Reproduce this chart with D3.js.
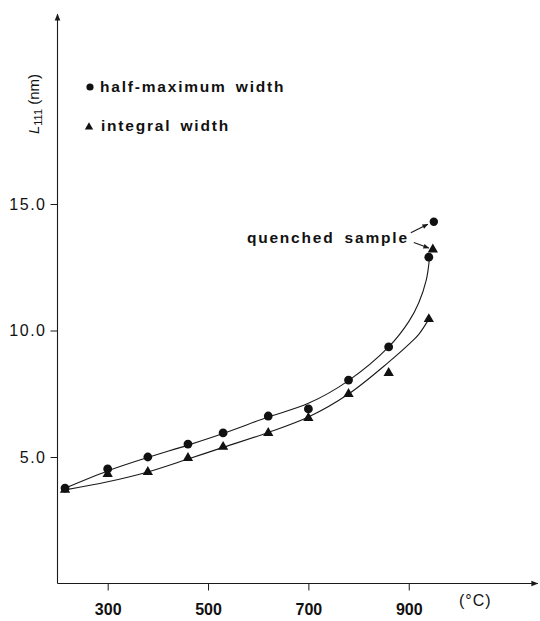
<!DOCTYPE html>
<html>
<head>
<meta charset="utf-8">
<script src="https://cdn.jsdelivr.net/npm/d3@7/dist/d3.min.js"></script>
<style>
  html, body { margin: 0; padding: 0; background: #fff; }
  svg { display: block; }
  text { font-family: "Liberation Sans", Arial, Helvetica, sans-serif; fill: #111; }
</style>
</head>
<body>
<div id="chart"></div>
<script>
// ---- data ----
const temps = [215, 300, 380, 460, 530, 620, 700, 780, 860, 940];
const halfMaxWidth = [3.77, 4.53, 5.0, 5.51, 5.95, 6.62, 6.90, 8.04, 9.35, 12.9];
const integralWidth = [3.70, 4.33, 4.41, 4.96, 5.40, 5.95, 6.54, 7.49, 8.32, 10.45];
const quenchedT = [950, 948];          // quenched sample temperatures (circle, triangle)
const quenchedValues = [14.3, 13.2];   // half-maximum, integral
// fitted curves drawn through the data
const halfMaxFitT = [215, 300, 380, 460, 530, 620, 700, 780, 860, 900, 920, 935, 941];
const halfMaxFitV = [3.77, 4.45, 4.98, 5.47, 5.93, 6.58, 7.12, 8.02, 9.35, 10.35, 11.1, 12.0, 12.8];
const integralFitT = [215, 300, 380, 460, 530, 620, 700, 780, 860, 900, 920, 940];
const integralFitV = [3.70, 4.02, 4.41, 4.92, 5.38, 5.97, 6.58, 7.49, 8.75, 9.45, 9.85, 10.45];
const xTicks = [300, 500, 700, 900];
const yTicks = [5, 10, 15];
const legendLabels = ["half-maximum width", "integral width"];

const W = 540, H = 621;
const svg = d3.select("#chart").append("svg").attr("width", W).attr("height", H);

const x = d3.scaleLinear().domain([200, 1157]).range([57.5, 537.7]);
const y = d3.scaleLinear().domain([0, 22.5]).range([583.5, 14.25]);

const ink = "#1a1a1a";

// arrow markers
const defs = svg.append("defs");
defs.append("marker").attr("id", "axArrow").attr("viewBox", "0 0 10 10")
  .attr("refX", 9).attr("refY", 5).attr("markerWidth", 9).attr("markerHeight", 7)
  .attr("markerUnits", "userSpaceOnUse").attr("orient", "auto")
  .append("path").attr("d", "M0,1 L10,5 L0,9 Z").attr("fill", ink);
defs.append("marker").attr("id", "smArrow").attr("viewBox", "0 0 10 10")
  .attr("refX", 9).attr("refY", 5).attr("markerWidth", 7).attr("markerHeight", 6)
  .attr("markerUnits", "userSpaceOnUse").attr("orient", "auto")
  .append("path").attr("d", "M0,1 L10,5 L0,9 Z").attr("fill", ink);

// axis lines with arrows
svg.append("line").attr("x1", x(200)).attr("y1", y(0)).attr("x2", x(200)).attr("y2", y(22.5))
  .attr("stroke", ink).attr("stroke-width", 1.1).attr("marker-end", "url(#axArrow)");
svg.append("line").attr("x1", x(200)).attr("y1", y(0)).attr("x2", x(1157)).attr("y2", y(0))
  .attr("stroke", ink).attr("stroke-width", 1.1).attr("marker-end", "url(#axArrow)");

// x axis
const xAxis = svg.append("g").attr("transform", `translate(0,${y(0)})`)
  .call(d3.axisBottom(x).tickValues(xTicks).tickSize(7).tickPadding(13).tickFormat(d3.format("d")));
xAxis.select(".domain").remove();
xAxis.selectAll("line").attr("stroke", ink);
xAxis.selectAll("text").attr("font-size", 16).attr("font-weight", "bold")
  .attr("font-family", "Liberation Sans, Arial, sans-serif").attr("fill", "#111");

// y axis
const yAxis = svg.append("g").attr("transform", `translate(${x(200)},0)`)
  .call(d3.axisLeft(y).tickValues(yTicks).tickSize(7).tickPadding(4).tickFormat(d3.format(".1f")));
yAxis.select(".domain").remove();
yAxis.selectAll("line").attr("stroke", ink);
yAxis.selectAll("text").attr("font-size", 16).attr("letter-spacing", "1.5px")
  .attr("font-family", "Liberation Sans, Arial, sans-serif").attr("fill", "#111");

// x unit label
svg.append("text").attr("x", x(1000)).attr("y", 606).attr("font-size", 16)
  .attr("letter-spacing", "1px").text("(°C)");

// y axis label
const yl = svg.append("text").attr("transform", "translate(39,104) rotate(-90)")
  .attr("text-anchor", "middle").attr("font-size", 15);
yl.append("tspan").attr("font-style", "italic").text("L");
yl.append("tspan").attr("font-size", 11).attr("dy", 3).text("111");
yl.append("tspan").attr("dy", -3).text(" (nm)");

// fitted curves
const line = d3.line().x(d => x(d[0])).y(d => y(d[1])).curve(d3.curveCatmullRom.alpha(0.5));
svg.append("path").datum(halfMaxFitT.map((t, i) => [t, halfMaxFitV[i]]))
  .attr("d", line).attr("fill", "none").attr("stroke", ink).attr("stroke-width", 1.1);
svg.append("path").datum(integralFitT.map((t, i) => [t, integralFitV[i]]))
  .attr("d", line).attr("fill", "none").attr("stroke", ink).attr("stroke-width", 1.1);

// markers
const tri = d3.symbol().type(d3.symbolTriangle).size(46);
svg.append("g").selectAll("path").data(temps.map((t, i) => [t, integralWidth[i]]))
  .join("path").attr("d", tri).attr("transform", d => `translate(${x(d[0])},${y(d[1])})`).attr("fill", "#111");
svg.append("g").selectAll("circle").data(temps.map((t, i) => [t, halfMaxWidth[i]]))
  .join("circle").attr("cx", d => x(d[0])).attr("cy", d => y(d[1])).attr("r", 4.4).attr("fill", "#111");

// quenched sample points
const qc = [x(quenchedT[0]), y(quenchedValues[0])];
const qt = [x(quenchedT[1]), y(quenchedValues[1])];
svg.append("circle").attr("cx", qc[0]).attr("cy", qc[1]).attr("r", 4.2).attr("fill", "#111");
svg.append("path").attr("d", tri).attr("transform", `translate(${qt[0]},${qt[1]})`).attr("fill", "#111");

// quenched annotation
svg.append("text").attr("x", qc[0] - 25).attr("y", qc[1] + 21).attr("text-anchor", "end")
  .attr("font-size", 15.5).attr("font-weight", "bold").attr("letter-spacing", "1.8px")
  .attr("word-spacing", "4px").text("quenched sample");
svg.append("line").attr("x1", qc[0] - 23).attr("y1", qc[1] + 11).attr("x2", qc[0] - 6).attr("y2", qc[1] + 2.5)
  .attr("stroke", ink).attr("stroke-width", 1.1).attr("marker-end", "url(#smArrow)");
svg.append("line").attr("x1", qt[0] - 19).attr("y1", qt[1] - 7).attr("x2", qt[0] - 4).attr("y2", qt[1] - 1.5)
  .attr("stroke", ink).attr("stroke-width", 1.1).attr("marker-end", "url(#smArrow)");

// legend
const lg = svg.append("g");
lg.append("circle").attr("cx", 90).attr("cy", 87).attr("r", 3.6).attr("fill", "#111");
lg.append("text").attr("x", 100).attr("y", 92).attr("font-size", 15.5).attr("font-weight", "bold")
  .attr("letter-spacing", "1.8px").attr("word-spacing", "3px").text(legendLabels[0]);
lg.append("path").attr("d", d3.symbol().type(d3.symbolTriangle).size(30)).attr("transform", "translate(89,127)").attr("fill", "#111");
lg.append("text").attr("x", 101).attr("y", 131).attr("font-size", 15.5).attr("font-weight", "bold")
  .attr("letter-spacing", "1.8px").attr("word-spacing", "3px").text(legendLabels[1]);
</script>
</body>
</html>
